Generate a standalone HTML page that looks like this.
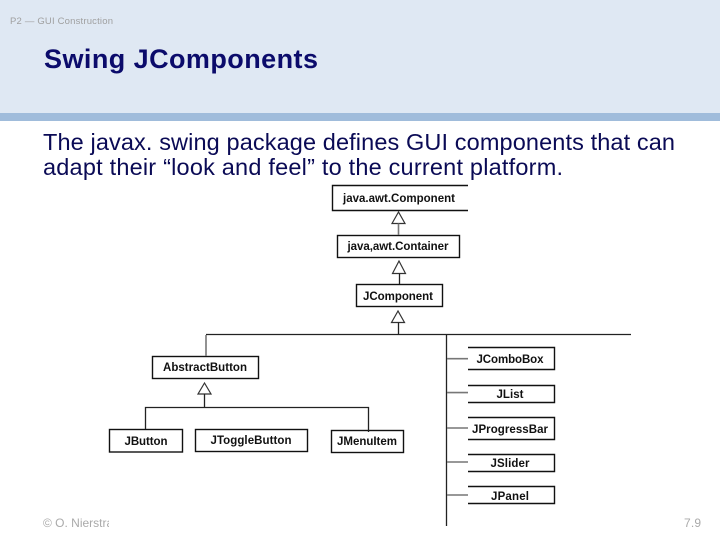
<!DOCTYPE html>
<html><head><meta charset="utf-8"><style>
html,body{margin:0;padding:0;background:#fff;width:720px;height:540px;overflow:hidden}
svg{display:block}
text{font-family:"Liberation Sans",sans-serif}
.b{font-weight:bold;font-size:11.5px;fill:#111;text-anchor:middle}
.body{font-size:23.5px;fill:#0a0a55}
</style></head><body>
<svg width="720" height="540" viewBox="0 0 720 540" xmlns="http://www.w3.org/2000/svg">
<rect x="0" y="0" width="720" height="113" fill="#dfe8f3"/>
<rect x="0" y="113" width="720" height="8" fill="#a0bcdb"/>
<text x="10" y="24" font-size="9.5" fill="#a0a0a0" textLength="103">P2 — GUI Construction</text>
<text x="44" y="68" font-size="27" font-weight="bold" fill="#0b0b6b" textLength="274">Swing JComponents</text>
<text class="body" x="43" y="150" textLength="632">The javax. swing package defines GUI components that can</text>
<text class="body" x="43" y="175" textLength="520">adapt their “look and feel” to the current platform.</text>

<g fill="none" stroke="#111" stroke-width="1.4">
<path d="M468 185.5H332.5V210.5H468"/>
<rect x="337.5" y="235.5" width="122" height="22"/>
<rect x="356.5" y="284.5" width="86" height="22"/>
<rect x="152.5" y="356.5" width="106" height="22"/>
<rect x="109.5" y="429.5" width="73" height="22.5"/>
<rect x="195.5" y="429.5" width="112" height="22"/>
<rect x="331.5" y="430.5" width="72" height="22"/>
<path d="M468 347.5H554.5V369.5H468"/>
<path d="M468 385.5H554.5V402.5H468"/>
<path d="M468 417.5H554.5V439.5H468"/>
<path d="M468 454.5H554.5V471.5H468"/>
<path d="M468 486.5H554.5V503.5H468"/>
</g>

<g fill="none" stroke="#333" stroke-width="1.2">
<path d="M398.5 212L392 223.5H405Z"/>
<path d="M399 261L392.5 273.5H405.5Z"/>
<path d="M398 311L391.5 322.5H404.5Z"/>
<path d="M204.5 383L198 394H211Z"/>
</g>

<g fill="none" stroke="#222" stroke-width="1.3">
<path d="M399.5 273.5V284"/>
<path d="M398.5 322.5V334"/>
<path d="M204.5 394V408"/>
<path d="M145.5 429V407.5H368.5V432"/>
<path d="M446.5 334V526"/>
<path d="M206 334.5H631"/>
</g>
<g fill="none" stroke="#777" stroke-width="1.6">
<path d="M398.5 223.5V235"/>
<path d="M206 335V356"/>
<path d="M447 358.7H468"/>
<path d="M447 392.6H468"/>
<path d="M447 428H468"/>
<path d="M447 462H468"/>
<path d="M447 495H468"/>
</g>

<text class="b" x="399" y="202" textLength="112">java.awt.Component</text>
<text class="b" x="398" y="250" textLength="101">java,awt.Container</text>
<text class="b" x="398" y="300" textLength="70">JComponent</text>
<text class="b" x="205" y="371" textLength="84">AbstractButton</text>
<text class="b" x="146" y="445" textLength="43">JButton</text>
<text class="b" x="251" y="444" textLength="81">JToggleButton</text>
<text class="b" x="367" y="445" textLength="60">JMenuItem</text>
<text class="b" x="510" y="363" textLength="67">JComboBox</text>
<text class="b" x="510" y="398" textLength="27">JList</text>
<text class="b" x="510" y="433" textLength="76">JProgressBar</text>
<text class="b" x="510" y="467" textLength="39">JSlider</text>
<text class="b" x="510" y="500" textLength="38">JPanel</text>

<text x="43" y="527" font-size="12" fill="#aaa">© O. Nierstrasz</text>
<rect x="109" y="510" width="60" height="25" fill="#fff"/>
<text x="684" y="527" font-size="12" fill="#aaa" textLength="17">7.9</text>
</svg>
</body></html>
